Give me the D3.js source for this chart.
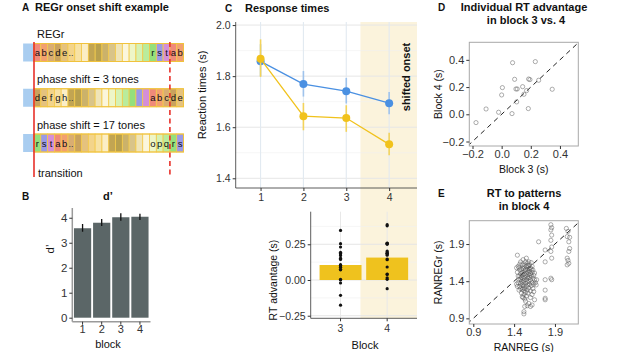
<!DOCTYPE html>
<html><head><meta charset="utf-8">
<script src="https://cdn.jsdelivr.net/npm/d3@7"></script>
<style>
body{margin:0;background:#fff;}
svg{font-family:"Liberation Sans",Arial,sans-serif;}
</style></head>
<body><svg id="c" width="617" height="352"></svg>
<script>
// ---------------- DATA ----------------
// Panel A
const toneLetters = "abcdefghijklmnopqrst".split("");
const toneColors = ["#f08a7a","#f2a070","#d9ad72","#c9a25e","#e5c27e","#f3d48a","#f7e2a4","#fbeec6","#c2a552","#b8a04e","#cbb26a","#d9c489","#efe4b8","#fbf6dc","#eef6c8","#d6f2b4","#b9ec9c","#94e07c","#9a9ae6","#d48ed8"];
const rowLabels = ["REGr","phase shift = 3 tones","phase shift = 17 tones"];
const rowShifts = [0,3,17];
const tonesShown = 22;
const transitionTone = 0, onsetTone = 20;

// Panel B
const dBlocks = [1,2,3,4];
const dMean = [3.58,3.80,4.02,4.04];
const dLo = [3.44,3.67,3.88,3.91];
const dHi = [3.75,3.95,4.18,4.16];

// Panel C (top)
const rtBlocks = [1,2,3,4];
const rtBlue = [1.858,1.769,1.741,1.694];
const rtBlueLo = [1.800,1.720,1.693,1.651];
const rtBlueHi = [1.925,1.820,1.793,1.738];
const rtYellow = [1.868,1.643,1.636,1.533];
const rtYellowLo = [1.797,1.588,1.582,1.490];
const rtYellowHi = [1.944,1.695,1.686,1.578];
const shadeStartBlock = 3.33;

// Panel C (bottom) & D
const advBlocks = [3,4];
const advMean = [0.105,0.157];
const advBlock3 = [-0.176,-0.107,-0.021,0.000,0.005,0.071,0.075,0.089,0.098,0.107,0.103,0.144,0.153,0.171,0.183,0.185,0.194,0.231,0.254,0.347];
const advBlock4 = [-0.061,0.039,0.015,0.142,0.196,0.005,0.379,0.257,0.186,0.186,0.091,0.203,0.147,0.174,0.042,0.259,0.255,0.387,0.250,0.184];

// Panel E
const eX = [1.85,1.86,1.85,1.86,1.85,1.86,1.85,1.86,1.85,1.86,
  1.78,1.78,1.78,1.78,1.78,1.78,
  2.04,2.06,2.05,2.08,2.07,2.08,2.07,2.05,2.06,2.07,2.05,
  1.70,1.675,1.67,
  1.43,1.43,1.44,1.44,1.44,1.45,1.45,1.45,1.46,1.46,1.46,
  1.47,1.47,1.47,1.47,1.48,1.48,1.48,1.48,1.48,1.49,1.49,1.49,1.49,
  1.50,1.50,1.50,1.50,1.50,1.50,1.51,1.51,1.51,1.51,1.51,1.51,
  1.52,1.52,1.52,1.52,1.52,1.52,1.52,1.52,1.53,1.53,1.53,1.53,1.53,1.53,
  1.54,1.54,1.54,1.54,1.54,1.54,1.55,1.55,1.55,1.55,1.55,1.55,
  1.56,1.56,1.56,1.56,1.56,1.56,1.57,1.57,1.57,1.57,1.57,
  1.58,1.58,1.58,1.58,1.58,1.58,1.59,1.59,1.59,1.59,
  1.60,1.60,1.60,1.60,1.60,1.60,1.61,1.61,1.61,1.61,
  1.62,1.62,1.62,1.62,1.62,1.63,1.63,1.63,1.64,1.64,1.64,1.65,1.65,1.65,1.66];
const eY = [2.16,2.12,2.09,2.02,1.95,1.86,1.80,1.71,1.44,1.42,
  1.82,1.66,1.42,1.28,1.17,1.15,
  2.11,2.07,2.00,1.99,1.93,1.84,1.80,1.71,1.68,1.64,1.62,
  1.93,1.42,1.35,
  1.36,1.58,1.75,1.33,1.52,1.60,1.38,1.47,1.58,1.28,1.42,
  1.55,1.33,1.63,1.47,1.50,1.30,1.43,1.66,1.37,1.40,1.56,1.24,1.45,
  1.62,1.35,1.52,1.19,1.29,1.48,1.18,1.44,1.57,1.31,1.69,1.38,
  0.96,0.99,1.22,1.50,1.34,1.59,1.41,1.27,1.06,1.45,1.62,1.30,1.54,1.16,
  1.13,1.37,1.48,1.66,1.25,1.56,1.20,1.42,1.60,1.33,1.51,1.71,
  1.07,1.46,1.28,1.55,1.64,1.39,1.52,1.35,1.61,1.44,1.24,
  1.10,1.49,1.57,1.40,1.66,1.31,1.45,1.53,1.36,1.62,
  1.06,1.18,1.42,1.58,1.50,1.27,1.47,1.56,1.34,1.65,
  1.08,1.22,1.38,1.52,1.60,1.44,1.30,1.55,1.48,1.36,1.26,1.42,1.51,1.15,1.38];

// ---------------- DRAW ----------------
const svg = d3.select("#c");
const DARK = "#333";
function text(x,y,s,o={}){
  const t = svg.append("text").attr("x",x).attr("y",y).text(s)
    .attr("font-size",o.size||11).attr("fill",o.fill||"#111")
    .attr("font-weight",o.bold?"bold":"normal")
    .attr("text-anchor",o.anchor||"start");
  if(o.rotate){ t.attr("transform",`rotate(-90,${x},${y})`); }
  return t;
}
function styleAxis(g,size){
  g.selectAll("text").attr("font-size",size||10.5).attr("fill",DARK).attr("font-family","Liberation Sans, Arial, sans-serif");
  g.selectAll("line").attr("stroke",DARK);
  g.select(".domain").remove();
}

// ===== Panel A =====
text(22,11,"A",{bold:true,size:10});
text(35,11,"REGr onset shift example",{bold:true,size:11});
const tx = d3.scaleLinear().domain([0,tonesShown]).range([34,183.5]);
const tw = tx(1)-tx(0);
const rowY = d3.scalePoint().domain([0,1,2]).range([43.5,134]);
const rowH = 18;
rowShifts.forEach((s,r)=>{
  const y0 = rowY(r);
  const g = svg.append("g");
  text(37,y0-5.5,rowLabels[r],{size:11});
  g.append("rect").attr("x",tx(-1.6)).attr("y",y0).attr("width",tx(0)-tx(-1.6)).attr("height",rowH).attr("fill","#a9cdf0");
  const idx = d3.range(tonesShown);
  g.selectAll("rect.t").data(idx).enter().append("rect")
    .attr("x",k=>tx(k)).attr("y",y0).attr("width",tw).attr("height",rowH)
    .attr("fill",k=>toneColors[(s+k)%20]).attr("stroke","#f3c94a").attr("stroke-width",0.8);
  g.append("rect").attr("x",tx(0)).attr("y",y0).attr("width",tx(tonesShown)-tx(0)).attr("height",rowH)
    .attr("fill","none").attr("stroke","#f0c23c").attr("stroke-width",1);
  const labelled = idx.filter(k=>k<5||k>=17);
  g.selectAll("text.l").data(labelled).enter().append("text")
    .attr("x",k=>tx(k)+tw/2).attr("y",y0+12.5).attr("text-anchor","middle")
    .attr("font-size",9.5).attr("fill","#111").text(k=>toneLetters[(s+k)%20]);
  g.append("text").attr("x",tx(5)+0.5).attr("y",y0+12.5).attr("font-size",9).attr("fill","#333").text("..");
});
svg.append("line").attr("x1",tx(transitionTone)).attr("x2",tx(transitionTone)).attr("y1",42).attr("y2",177)
  .attr("stroke","#e8302a").attr("stroke-width",1.6);
svg.append("line").attr("x1",tx(onsetTone)).attr("x2",tx(onsetTone)).attr("y1",42).attr("y2",177)
  .attr("stroke","#e8302a").attr("stroke-width",1.6).attr("stroke-dasharray","5,3.5");
text(38,177,"transition",{size:11});

// ===== Panel B =====
text(22,200,"B",{bold:true,size:10});
text(103,200,"d’",{bold:true,size:11});
const bx = d3.scaleBand().domain(dBlocks).range([73,149.5]).paddingInner(0.1).paddingOuter(0.05);
const by = d3.scaleLinear().domain([-0.16,4.39]).range([321.7,208]);
svg.append("g").selectAll("rect").data(dBlocks).enter().append("rect")
  .attr("x",d=>bx(d)).attr("width",bx.bandwidth()).attr("y",(d,i)=>by(dMean[i])).attr("height",(d,i)=>by(0)-by(dMean[i]))
  .attr("fill","#5b6667");
svg.append("g").selectAll("line").data(dBlocks).enter().append("line")
  .attr("x1",d=>bx(d)+bx.bandwidth()/2).attr("x2",d=>bx(d)+bx.bandwidth()/2)
  .attr("y1",(d,i)=>by(dLo[i])).attr("y2",(d,i)=>by(dHi[i])).attr("stroke","#111").attr("stroke-width",1.3);
svg.append("line").attr("x1",72.3).attr("x2",72.3).attr("y1",208).attr("y2",321.7).attr("stroke","#9a9a9a").attr("stroke-width",1.5);
svg.append("line").attr("x1",72.3).attr("x2",150.5).attr("y1",321.7).attr("y2",321.7).attr("stroke","#9a9a9a").attr("stroke-width",1.5);
let gb = svg.append("g").attr("transform","translate(72.3,0)").call(d3.axisLeft(by).tickValues([0,1,2,3,4]).tickSize(3).tickPadding(2).tickFormat(d3.format("d")));
styleAxis(gb,11.5);
gb = svg.append("g").attr("transform","translate(0,321.7)").call(d3.axisBottom(bx).tickSize(3).tickPadding(1));
styleAxis(gb,11);
text(108,348,"block",{size:11,anchor:"middle"});
text(54,249,"d’",{size:11.5,anchor:"middle",rotate:true});

// ===== Panel C =====
text(225,12,"C",{bold:true,size:10});
text(245,12,"Response times",{bold:true,size:11});
const cx = d3.scaleLinear().domain([0.42,4.65]).range([235.7,417]);
const cy = d3.scaleLinear().domain([1.362,2.012]).range([188,22]);
// shading
svg.append("rect").attr("x",cx(shadeStartBlock)).attr("y",22).attr("width",417-cx(shadeStartBlock)).attr("height",318.3-22).attr("fill","#fbf3dc");
// grid
[1.5,1.7,1.9].forEach(v=>svg.append("line").attr("x1",235.7).attr("x2",417).attr("y1",cy(v)).attr("y2",cy(v)).attr("stroke","#f0f0f0").attr("stroke-width",0.6));
[1.4,1.6,1.8,2.0].forEach(v=>svg.append("line").attr("x1",235.7).attr("x2",417).attr("y1",cy(v)).attr("y2",cy(v)).attr("stroke","#e6e6e6").attr("stroke-width",1));
rtBlocks.forEach(v=>svg.append("line").attr("x1",cx(v)).attr("x2",cx(v)).attr("y1",22).attr("y2",188).attr("stroke","#e2eaf1").attr("stroke-width",1.1));
// series
function series(vals,lo,hi,col,errCol){
  const g = svg.append("g");
  g.selectAll("line").data(rtBlocks).enter().append("line")
    .attr("x1",d=>cx(d)).attr("x2",d=>cx(d)).attr("y1",(d,i)=>cy(lo[i])).attr("y2",(d,i)=>cy(hi[i]))
    .attr("stroke",errCol).attr("stroke-width",1.6);
  g.append("path").datum(vals).attr("d",d3.line().x((d,i)=>cx(rtBlocks[i])).y(d=>cy(d)))
    .attr("fill","none").attr("stroke",col).attr("stroke-width",1.3);
  g.selectAll("circle").data(vals).enter().append("circle")
    .attr("cx",(d,i)=>cx(rtBlocks[i])).attr("cy",d=>cy(d)).attr("r",4).attr("fill",col);
}
series(rtBlue,rtBlueLo,rtBlueHi,"#4a90e2","#9fc3ec");
series(rtYellow,rtYellowLo,rtYellowHi,"#f1c21c","#f3d35a");
svg.append("line").attr("x1",235.7).attr("x2",235.7).attr("y1",22).attr("y2",188).attr("stroke",DARK).attr("stroke-width",0.8);
svg.append("line").attr("x1",235.7).attr("x2",417).attr("y1",188).attr("y2",188).attr("stroke",DARK).attr("stroke-width",0.8);
let gc = svg.append("g").attr("transform","translate(235.7,0)").call(d3.axisLeft(cy).tickValues([1.4,1.6,1.8,2.0]).tickSize(3).tickPadding(2).tickFormat(d3.format(".1f")));
styleAxis(gc,10.5);
gc = svg.append("g").attr("transform","translate(0,188)").call(d3.axisBottom(cx).tickValues(rtBlocks).tickSize(3).tickPadding(3).tickFormat(d3.format("d")));
styleAxis(gc,10.5);
text(206,95,"Reaction times (s)",{size:11,anchor:"middle",rotate:true});
text(410,77,"shifted onset",{size:11,bold:true,anchor:"middle",rotate:true});

// lower C
const lx = d3.scaleBand().domain(advBlocks).range([310.7,417]).paddingInner(0.1).paddingOuter(0.19);
const ly = d3.scaleLinear().domain([-0.268,0.478]).range([318.3,211.7]);
[-0.125,0.125,0.375].forEach(v=>svg.append("line").attr("x1",310.7).attr("x2",417).attr("y1",ly(v)).attr("y2",ly(v)).attr("stroke","#f0f0f0").attr("stroke-width",0.6));
[-0.25,0,0.25].forEach(v=>svg.append("line").attr("x1",310.7).attr("x2",417).attr("y1",ly(v)).attr("y2",ly(v)).attr("stroke","#e6e6e6").attr("stroke-width",1));
advBlocks.forEach(v=>svg.append("line").attr("x1",lx(v)+lx.bandwidth()/2).attr("x2",lx(v)+lx.bandwidth()/2).attr("y1",211.7).attr("y2",318.3).attr("stroke","#e8e8e8").attr("stroke-width",1));
svg.append("g").selectAll("rect").data(advBlocks).enter().append("rect")
  .attr("x",d=>lx(d)).attr("width",lx.bandwidth()).attr("y",(d,i)=>ly(advMean[i])).attr("height",(d,i)=>ly(0)-ly(advMean[i]))
  .attr("fill","#efc21e");
[advBlock3,advBlock4].forEach((arr,j)=>{
  svg.append("g").selectAll("circle").data(arr).enter().append("circle")
    .attr("cx",lx(advBlocks[j])+lx.bandwidth()/2).attr("cy",d=>ly(d)).attr("r",1.6).attr("fill","#111");
});
svg.append("line").attr("x1",310.7).attr("x2",310.7).attr("y1",211.7).attr("y2",318.3).attr("stroke",DARK).attr("stroke-width",0.8);
svg.append("line").attr("x1",310.7).attr("x2",417).attr("y1",318.3).attr("y2",318.3).attr("stroke",DARK).attr("stroke-width",0.8);
let gl = svg.append("g").attr("transform","translate(310.7,0)").call(d3.axisLeft(ly).tickValues([-0.25,0,0.25]).tickSize(3).tickPadding(2).tickFormat(d3.format(".2f")));
styleAxis(gl,10.5);
gl = svg.append("g").attr("transform","translate(0,318.3)").call(d3.axisBottom(lx).tickSize(3).tickPadding(3));
styleAxis(gl,10.5);
text(365,349,"Block",{size:11,anchor:"middle"});
text(277,280,"RT advantage (s)",{size:10.5,anchor:"middle",rotate:true});

// ===== Panel D & E =====
function scatter(o){
  const {xs,ys,xd,yd,left,right,top,bottom,ticks,fmt,xlab,ylab,id} = o;
  const sx = d3.scaleLinear().domain(xd).range([left,right]);
  const sy = d3.scaleLinear().domain(yd).range([bottom,top]);
  svg.append("clipPath").attr("id",id).append("rect").attr("x",left).attr("y",top).attr("width",right-left).attr("height",bottom-top);
  const lo = Math.min(xd[0],yd[0]), hi = Math.max(xd[1],yd[1]);
  svg.append("line").attr("clip-path",`url(#${id})`).attr("x1",sx(lo)).attr("y1",sy(lo)).attr("x2",sx(hi)).attr("y2",sy(hi))
    .attr("stroke","#222").attr("stroke-width",1).attr("stroke-dasharray","5,4");
  svg.append("g").selectAll("circle").data(xs).enter().append("circle")
    .attr("cx",d=>sx(d)).attr("cy",(d,i)=>sy(ys[i])).attr("r",2.1)
    .attr("fill","none").attr("stroke","#555").attr("stroke-width",0.6).attr("stroke-opacity",0.8);
  svg.append("rect").attr("x",left).attr("y",top).attr("width",right-left).attr("height",bottom-top)
    .attr("fill","none").attr("stroke","#a8a8a8").attr("stroke-width",1);
  let g = svg.append("g").attr("transform",`translate(0,${bottom})`).call(d3.axisBottom(sx).tickValues(ticks).tickSize(3).tickPadding(1).tickFormat(d3.format(fmt)));
  styleAxis(g,11);
  g = svg.append("g").attr("transform",`translate(${left},0)`).call(d3.axisLeft(sy).tickValues(ticks).tickSize(3).tickPadding(2).tickFormat(d3.format(fmt)));
  styleAxis(g,11);
  text((left+right)/2,bottom+27,xlab,{size:10.5,anchor:"middle"});
  text(left-27,(top+bottom)/2,ylab,{size:10.5,anchor:"middle",rotate:true});
}
text(438,11,"D",{bold:true,size:10});
text(524,11,"Individual RT advantage",{bold:true,size:11,anchor:"middle"});
text(526,24,"in block 3 vs. 4",{bold:true,size:11,anchor:"middle"});
scatter({xs:advBlock3,ys:advBlock4,xd:[-0.222,0.526],yd:[-0.233,0.529],left:469.3,right:578.3,top:42.3,bottom:146,
  ticks:[-0.2,0,0.2,0.4],fmt:".1f",xlab:"Block 3 (s)",ylab:"Block 4 (s)",id:"clipD"});
text(438,197,"E",{bold:true,size:10});
text(524,197,"RT to patterns",{bold:true,size:11,anchor:"middle"});
text(524,210,"in block 4",{bold:true,size:11,anchor:"middle"});
scatter({xs:eX,ys:eY,xd:[0.851,2.186],yd:[0.824,2.214],left:469.3,right:578.3,top:220.7,bottom:324,
  ticks:[0.9,1.4,1.9],fmt:".1f",xlab:"RANREG (s)",ylab:"RANREGr (s)",id:"clipE"});
</script></body></html>
